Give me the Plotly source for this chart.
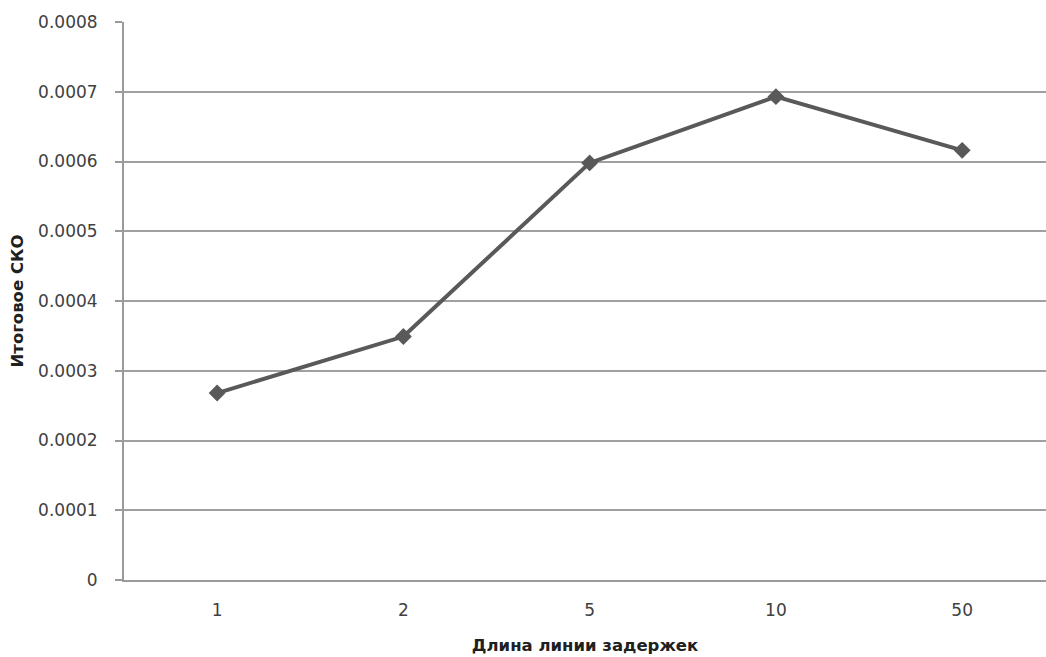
import plotly.graph_objects as go

# Delay-line length categories and resulting RMS error
delay_lengths = ["1", "2", "5", "10", "50"]
final_rmse = [0.000268, 0.000349, 0.000598, 0.000693, 0.000616]

y_ticks = [0, 0.0001, 0.0002, 0.0003, 0.0004, 0.0005, 0.0006, 0.0007, 0.0008]
y_tick_text = ["0", "0.0001", "0.0002", "0.0003", "0.0004", "0.0005", "0.0006", "0.0007", "0.0008"]

x_idx = list(range(len(delay_lengths)))

fig = go.Figure()
fig.add_trace(go.Scatter(
    x=x_idx,
    y=final_rmse,
    mode="lines+markers",
    line=dict(color="#595959", width=4),
    marker=dict(symbol="diamond", size=13, color="#595959"),
    showlegend=False,
    cliponaxis=False,
))

fig.update_layout(
    width=1046,
    height=657,
    margin=dict(l=124, r=0, t=22, b=77),
    paper_bgcolor="white",
    plot_bgcolor="white",
    font=dict(family="DejaVu Sans", size=17, color="#404040"),
    xaxis=dict(
        range=[-0.5, 4.45],
        tickmode="array",
        tickvals=x_idx,
        ticktext=delay_lengths,
        showgrid=False,
        zeroline=False,
        showline=True,
        linecolor="#9a9a9a",
        linewidth=2,
        ticks="",
        ticklabelstandoff=14,
        tickfont=dict(size=17, color="#404040"),
        title=dict(
            text="Длина линии задержек",
            font=dict(family="DejaVu Sans", size=16.5, color="#202020", weight="bold"),
            standoff=20,
        ),
    ),
    yaxis=dict(
        range=[0, 0.0008],
        tickmode="array",
        tickvals=y_ticks,
        ticktext=y_tick_text,
        showgrid=True,
        gridcolor="#a0a0a0",
        gridwidth=2,
        zeroline=False,
        showline=True,
        linecolor="#9a9a9a",
        linewidth=2,
        ticks="outside",
        ticklen=7,
        tickwidth=2,
        tickcolor="#9a9a9a",
        ticklabelstandoff=14,
        tickfont=dict(size=17, color="#404040"),
        title=dict(
            text="Итоговое СКО",
            font=dict(family="DejaVu Sans", size=16.5, color="#202020", weight="bold"),
            standoff=10,
        ),
    ),
)

fig.write_html("out.html")
